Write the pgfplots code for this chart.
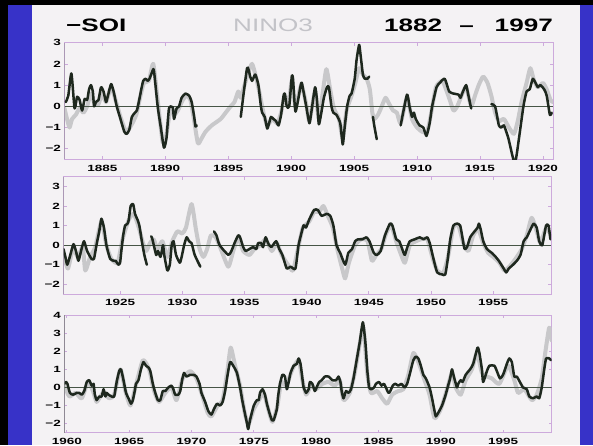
\documentclass[border=0pt]{standalone}
\usepackage{fontspec}
\setmainfont{Liberation Sans}
\newfontfamily\stretchfont[FakeStretch=1.45]{Liberation Sans}
\newfontfamily\tickfont[FakeStretch=1.5]{Liberation Sans}
\usepackage{pgfplots}
\pgfplotsset{compat=1.18}
\usepackage{pgfplotstable}

\definecolor{slideblue}{RGB}{55,50,200}
\definecolor{bgc}{RGB}{244,242,244}
\definecolor{graycurve}{RGB}{200,200,202}
\definecolor{darkcurve}{RGB}{30,40,30}
\definecolor{framec}{RGB}{205,170,220}
\definecolor{leftc}{RGB}{110,120,110}
\definecolor{zeroc}{RGB}{70,85,70}
\definecolor{ninoc}{RGB}{195,195,200}

\pgfplotstableread{
x y
1882.1 0.2
1882.3 0.5
1882.55 1.55
1882.8 -0.1
1883.0 0.45
1883.2 0.3
1883.4 -0.2
1883.6 0.35
1883.8 0.3
1883.95 0.8
1884.1 1.0
1884.25 0.7
1884.35 0.0
1884.5 0.2
1884.7 0.3
1884.9 0.9
1885.1 0.7
1885.3 0.2
1885.45 0.5
1885.7 1.05
1885.9 0.7
1886.15 0.0
1886.4 -0.5
1886.75 -1.2
1886.95 -1.3
1887.15 -1.1
1887.35 -0.5
1887.6 -0.3
1887.75 -0.2
1887.9 0.2
1888.1 0.8
1888.25 1.2
1888.45 1.3
1888.6 1.2
1888.75 1.3
1888.95 1.6
1889.1 1.7
1889.4 0.0
1889.65 -1.0
1889.9 -1.95
1890.1 -1.5
1890.3 -0.1
1890.6 -0.05
1890.7 -0.6
1890.9 -0.1
1891.1 0.0
1891.3 0.4
1891.6 0.6
1891.9 0.5
1892.1 0.2
1892.3 -0.5
1892.4 -0.95
1892.5 -0.9
nan nan
1896.0 -0.5
1896.5 1.8
1896.75 1.4
1896.9 1.2
1897.15 1.5
1897.4 1.0
1897.6 0.0
1897.7 -0.3
1897.9 -0.5
1898.1 -1.05
1898.25 -0.8
1898.4 -0.5
1898.6 -0.6
1898.8 -0.7
1899.0 -0.9
1899.2 -0.4
1899.4 0.5
1899.5 0.6
1899.65 0.0
1899.85 0.0
1900.05 1.4
1900.15 1.3
1900.35 -0.25
1900.8 1.1
1900.95 0.8
1901.2 0.0
1901.45 -0.8
1901.6 -0.3
1901.9 0.9
1902.05 0.3
1902.2 -0.85
1902.4 -0.3
1902.6 0.4
1902.85 0.9
1903.0 0.9
1903.2 0.0
1903.35 -0.3
1903.6 -0.4
1903.9 -0.8
1904.1 -1.8
1904.25 -1.0
1904.45 0.0
1904.65 0.5
1904.8 0.6
1905.05 1.3
1905.2 2.2
1905.4 2.9
1905.5 2.5
1905.7 1.5
1905.85 1.3
1906.05 1.3
1906.2 1.4
nan nan
1906.5 -0.5
1906.6 -0.9
1906.8 -1.55
nan nan
1908.7 -0.9
1909.2 0.55
1909.4 0.0
1909.6 -0.5
1909.75 -0.3
1909.9 -0.6
1910.2 -0.9
1910.5 -1.0
1910.75 -1.4
1911.0 -0.8
1911.2 0.0
1911.55 0.9
1911.8 1.1
1912.2 1.3
1912.55 0.7
1912.9 0.6
1913.3 0.55
1913.45 0.4
1913.65 0.7
1913.9 1.0
1914.05 0.6
1914.3 -0.1
nan nan
1915.9 0.1
1916.2 0.0
1916.5 -0.9
1916.7 -1.0
1916.9 -0.9
1917.25 -1.5
1917.65 -2.5
1917.85 -2.5
1918.1 -1.5
1918.45 0.0
1918.7 0.7
1918.95 0.8
1919.2 1.3
1919.5 1.0
1919.6 0.9
1919.8 1.0
1920.1 0.8
1920.3 0.5
1920.55 -0.4
1920.7 -0.3
}\soiA

\pgfplotstableread{
x y
1882.0 -0.1
1882.2 -0.6
1882.4 -1.0
1882.6 -0.6
1882.9 -0.4
1883.2 -0.1
1883.5 -0.3
1883.8 0.0
1884.1 0.6
1884.4 0.1
1884.7 0.1
1885.0 0.6
1885.3 0.2
1885.7 0.9
1886.1 0.2
1886.5 -0.6
1886.9 -1.2
1887.3 -0.9
1887.7 -0.4
1888.0 0.4
1888.3 1.1
1888.7 1.2
1889.05 2.0
1889.4 0.3
1889.8 -1.7
1890.1 -1.3
1890.4 -0.2
1890.7 -0.4
1891.0 -0.2
1891.4 0.3
1891.7 0.5
1892.0 0.3
1892.3 -0.7
1892.6 -1.75
1892.9 -1.5
1893.2 -1.2
1893.7 -0.9
1894.4 -0.6
1894.8 -0.3
1895.2 0.0
1895.5 0.2
1895.8 0.7
1896.0 0.4
1896.3 1.0
1896.6 1.6
1896.9 2.0
1897.2 1.4
1897.5 0.6
1897.8 -0.3
1898.1 -0.9
1898.5 -0.6
1898.9 -0.8
1899.2 -0.3
1899.5 0.5
1899.8 0.1
1900.05 1.2
1900.35 0.0
1900.8 1.0
1901.2 0.1
1901.45 -0.7
1901.9 0.7
1902.2 -0.6
1902.5 0.6
1902.8 1.75
1903.1 0.8
1903.4 -0.1
1903.8 -0.6
1904.1 -1.5
1904.4 -0.2
1904.8 0.5
1905.1 1.1
1905.4 1.8
1905.7 1.5
1906.0 1.3
1906.25 0.8
1906.45 -0.3
1906.6 -0.6
1906.9 -0.4
1907.2 0.0
1907.5 0.4
1907.8 0.1
1908.1 -0.2
1908.4 -0.3
1908.7 -0.8
1909.2 0.4
1909.6 -0.6
1910.0 -1.0
1910.4 -1.2
1910.8 -1.2
1911.1 -0.4
1911.5 0.9
1912.0 1.2
1912.3 0.8
1912.6 0.3
1912.9 -0.2
1913.2 0.0
1913.6 0.6
1913.9 0.9
1914.3 0.0
1914.6 0.5
1914.9 1.0
1915.25 1.4
1915.6 1.1
1915.9 0.5
1916.2 -0.3
1916.5 -0.7
1916.9 -0.6
1917.3 -1.0
1917.7 -1.3
1918.0 -0.7
1918.3 0.2
1918.7 1.1
1919.0 1.8
1919.3 1.2
1919.6 0.9
1920.0 1.1
1920.3 0.8
1920.6 0.3
1920.8 0.2
}\ninoA

\pgfplotstableread{
x y
1920.45 -0.2
1920.6 -0.6
1920.75 -1.0
1921.0 -0.5
1921.25 0.05
1921.45 -0.3
1921.65 -0.8
1921.9 -0.2
1922.1 0.2
1922.35 -0.3
1922.7 -0.7
1922.9 -0.7
1923.1 0.0
1923.35 0.8
1923.5 1.35
1923.7 0.9
1923.9 0.0
1924.2 -0.7
1924.5 -0.8
1924.65 -0.8
1924.85 -1.0
1925.0 -0.9
1925.1 -0.3
1925.25 0.5
1925.4 1.0
1925.6 1.1
1925.7 1.3
1925.85 2.0
1926.05 2.1
1926.2 1.6
1926.4 1.3
1926.55 1.0
1926.75 0.2
1926.95 -0.5
1927.15 -1.0
nan nan
1927.5 0.45
1927.6 0.3
1927.9 -0.5
1928.05 -0.3
1928.25 -0.6
1928.45 0.0
1928.55 -0.5
1928.8 -1.3
1929.0 -1.0
1929.15 0.0
1929.3 0.2
1929.5 -0.5
1929.8 -0.9
1929.95 -0.6
1930.15 0.0
1930.35 0.4
1930.55 0.2
1930.75 0.1
1931.0 -0.5
1931.45 -1.1
nan nan
1932.55 0.7
1932.75 0.5
1933.0 0.0
1933.7 -0.5
1933.95 -0.3
1934.2 0.1
1934.5 0.5
1934.65 0.4
1934.9 -0.1
1935.1 -0.3
1935.4 -0.2
1935.7 -0.1
1935.95 -0.2
1936.1 0.1
1936.35 0.1
1936.5 -0.1
1936.7 0.4
1936.9 0.1
1937.15 -0.1
1937.55 0.2
1937.8 -0.2
1938.05 -0.5
1938.4 -1.2
1938.7 -1.1
1939.1 -1.2
1939.35 0.0
1939.75 1.0
1939.95 0.9
1940.2 1.3
1940.6 1.8
1940.9 1.8
1941.2 1.5
1941.6 1.6
1941.9 1.5
1942.15 1.0
1942.4 0.0
1942.7 -0.4
1943.1 -1.0
1943.35 -0.4
1943.65 -0.2
1943.9 0.2
1944.15 0.3
1944.5 0.3
1944.8 0.4
1945.05 0.2
1945.4 -0.4
1945.65 -0.5
1945.95 -0.3
1946.3 0.5
1946.7 1.1
1946.9 1.0
1947.2 0.3
1947.45 0.2
1947.8 -0.4
1947.9 -0.5
1948.1 -0.1
1948.3 0.2
1948.7 0.3
1949.1 0.4
1949.4 0.3
1949.7 0.4
1949.9 0.1
1950.2 -0.7
1950.5 -1.4
1950.9 -1.5
1951.15 -1.5
1951.35 -0.7
1951.55 0.3
1951.8 1.0
1952.1 1.1
1952.35 1.0
1952.55 0.3
1952.7 -0.2
1952.9 -0.1
1953.15 0.4
1953.5 0.7
1953.75 0.9
1953.85 1.1
1954.0 0.8
1954.2 0.2
1954.5 -0.2
1954.9 -0.4
1955.2 -0.6
1955.45 -0.8
1955.85 -1.2
1956.05 -1.4
1956.25 -1.2
1956.6 -1.0
1956.9 -0.8
1957.2 -0.5
1957.45 0.2
1957.7 0.4
1958.0 0.8
1958.25 1.1
1958.5 0.9
1958.7 0.2
1958.95 0.0
1959.25 1.0
1959.45 1.0
1959.6 0.3
}\soiB

\pgfplotstableread{
x y
1920.4 -0.3
1920.8 -1.2
1921.2 -0.2
1921.6 -0.6
1922.0 -0.1
1922.2 -1.3
1922.6 -0.6
1923.0 -0.1
1923.5 1.2
1923.9 0.0
1924.3 -0.7
1924.8 -0.9
1925.2 0.3
1925.7 1.3
1926.1 1.6
1926.5 0.9
1926.8 0.2
1927.1 -0.3
1927.4 0.1
1927.7 0.3
1928.0 -0.2
1928.4 0.2
1928.8 -0.6
1929.2 0.2
1929.6 0.7
1930.0 0.6
1930.3 0.9
1930.75 2.1
1931.1 0.8
1931.4 -0.2
1931.7 -0.6
1932.0 -0.2
1932.3 0.5
1932.7 0.4
1933.1 -0.2
1933.7 -1.1
1934.1 -0.3
1934.5 0.4
1934.9 -0.3
1935.4 -0.5
1935.8 -0.2
1936.3 0.0
1936.7 0.3
1937.2 -0.3
1937.6 0.1
1938.0 -0.5
1938.5 -1.0
1938.9 -1.3
1939.3 -0.2
1939.7 0.9
1940.2 1.2
1940.6 1.7
1941.0 1.7
1941.35 2.0
1941.7 1.5
1942.1 0.9
1942.5 -0.3
1942.9 -1.3
1943.1 -1.7
1943.4 -0.9
1943.9 0.0
1944.4 0.3
1944.9 0.2
1945.25 -0.8
1945.6 -0.5
1946.0 -0.2
1946.4 0.6
1946.8 1.0
1947.2 0.2
1947.6 -0.5
1947.9 -0.9
1948.3 0.0
1948.8 0.2
1949.2 0.3
1949.7 0.3
1950.1 -0.6
1950.5 -1.3
1951.0 -1.4
1951.4 -0.5
1951.8 0.9
1952.2 1.0
1952.6 0.1
1953.0 -0.3
1953.4 0.5
1953.8 0.8
1954.2 0.1
1954.6 -0.4
1955.0 -0.6
1955.5 -0.9
1955.9 -1.3
1956.3 -1.1
1956.8 -0.7
1957.3 -0.2
1957.7 0.5
1958.1 1.4
1958.5 0.7
1958.8 0.1
1959.2 0.8
1959.6 0.6
}\ninoB

\pgfplotstableread{
x y
1959.8 0.2
1959.95 0.3
1960.05 0.2
1960.25 -0.3
1960.5 -0.4
1960.8 -0.3
1961.0 -0.3
1961.2 -0.4
1961.4 -0.2
1961.6 0.3
1961.8 0.4
1962.0 0.1
1962.15 0.2
1962.25 -0.4
1962.4 -0.7
1962.6 -0.5
1962.8 -0.5
1962.95 -0.1
1963.1 -0.5
1963.2 -0.3
1963.35 -0.4
1963.6 -0.5
1963.8 -0.5
1964.0 0.3
1964.2 0.9
1964.35 1.0
1964.55 0.4
1964.75 -0.3
1964.95 -0.6
1965.15 -0.9
1965.3 -0.7
1965.45 -0.2
1965.55 0.2
1965.75 0.4
1965.95 1.0
1966.15 1.4
1966.35 1.2
1966.55 1.1
1966.7 0.9
1966.9 0.2
1967.1 -0.3
1967.3 -0.7
1967.5 -0.7
1967.7 -0.2
1967.9 -0.2
1968.15 0.0
1968.4 0.1
1968.55 -0.1
1968.7 -0.4
1968.95 -0.4
1969.1 -0.2
1969.25 0.4
1969.4 0.8
1969.6 0.6
1969.9 0.7
1970.15 0.7
1970.4 0.6
1970.65 0.2
1970.8 -0.3
1971.1 -0.8
1971.35 -1.3
1971.6 -1.5
1971.8 -1.2
1972.05 -0.9
1972.3 -1.0
1972.5 -0.8
1972.7 -0.2
1972.9 0.7
1973.1 1.4
1973.35 1.2
1973.65 0.8
1973.9 0.0
1974.1 -0.8
1974.4 -1.8
1974.55 -2.3
1974.7 -1.8
1975.0 -1.0
1975.25 -0.7
1975.4 -0.7
1975.5 -0.3
1975.7 -0.1
1975.9 -0.4
1976.05 -0.9
1976.25 -1.4
1976.45 -1.8
1976.6 -1.8
1976.85 -1.2
1976.95 -0.5
1977.1 0.2
1977.3 0.7
1977.5 0.6
1977.65 -0.1
1977.8 0.3
1977.95 0.8
1978.2 1.2
1978.45 1.3
1978.6 1.6
1978.75 1.3
1978.9 0.5
1979.0 0.0
1979.2 -0.3
1979.4 -0.1
1979.5 0.3
1979.7 0.2
1979.9 -0.2
1980.1 0.1
1980.25 0.3
1980.45 0.4
1980.7 0.6
1981.0 0.6
1981.3 0.4
1981.6 0.4
1981.8 0.6
1981.95 0.3
1982.05 -0.2
1982.2 -0.6
1982.4 -0.2
1982.6 -0.3
1982.8 -0.1
1983.0 0.5
1983.25 1.5
1983.5 2.5
1983.75 3.6
1983.95 2.5
1984.1 1.0
1984.25 0.0
1984.45 -0.1
1984.65 0.0
1984.8 0.2
1985.05 0.3
1985.25 0.1
1985.45 0.2
1985.8 -0.3
1985.95 -0.2
1986.15 0.1
1986.35 0.2
1986.6 0.1
1986.85 0.2
1987.1 0.0
1987.3 0.2
1987.5 0.7
1987.8 1.5
1988.0 1.7
1988.2 1.6
1988.4 1.2
1988.6 0.7
1988.8 0.5
1989.1 0.0
1989.3 -0.6
1989.5 -1.3
1989.6 -1.6
1989.8 -1.4
1990.1 -1.0
1990.35 -0.5
1990.55 0.0
1990.75 0.5
1990.9 1.0
1991.05 0.6
1991.3 0.0
1991.4 0.2
1991.6 0.4
1991.75 0.3
1992.0 0.7
1992.35 1.0
1992.6 1.3
1992.95 2.2
1993.1 1.9
1993.3 1.0
1993.4 0.3
1993.7 0.9
1993.9 1.2
1994.3 1.2
1994.5 0.9
1994.75 0.5
1995.0 0.7
1995.3 1.3
1995.5 1.6
1995.7 1.4
1995.9 0.6
1996.1 0.6
1996.35 0.3
1996.6 0.0
1996.9 -0.1
1997.1 -0.5
1997.4 -0.6
1997.7 -0.5
1997.9 -0.6
1998.1 0.0
1998.3 1.0
1998.45 1.6
1998.7 1.6
1998.85 1.5
}\soiC

\pgfplotstableread{
x y
1959.8 0.1
1960.2 -0.5
1960.7 -0.3
1961.2 -0.6
1961.7 0.3
1962.1 -0.2
1962.4 -0.8
1962.9 -0.3
1963.4 -0.6
1963.8 -0.4
1964.3 1.0
1964.7 -0.2
1965.1 -1.0
1965.5 0.0
1966.1 1.5
1966.6 1.0
1967.0 -0.2
1967.4 -0.8
1967.9 -0.3
1968.4 0.0
1968.8 -0.7
1969.3 0.5
1969.9 0.9
1970.4 0.5
1970.8 -0.3
1971.3 -1.4
1971.6 -1.6
1972.1 -1.0
1972.5 -0.7
1972.9 1.0
1973.15 2.2
1973.5 1.2
1973.9 0.1
1974.3 -1.5
1974.6 -2.0
1975.0 -1.2
1975.5 -0.6
1975.8 -0.3
1976.2 -1.3
1976.5 -1.9
1976.9 -1.0
1977.2 0.3
1977.6 0.1
1978.1 1.0
1978.6 1.5
1978.9 0.4
1979.2 -0.4
1979.6 0.1
1980.0 -0.1
1980.5 0.2
1981.0 0.3
1981.5 0.1
1981.9 0.4
1982.2 -0.7
1982.7 -0.3
1983.1 0.8
1983.5 2.4
1983.8 3.3
1984.1 0.8
1984.4 -0.3
1984.9 -0.2
1985.3 -0.6
1985.7 -0.9
1986.1 -0.4
1986.6 -0.2
1987.0 -0.1
1987.4 0.7
1987.8 1.9
1988.2 1.4
1988.7 0.4
1989.1 -0.4
1989.5 -1.7
1990.0 -1.2
1990.5 -0.1
1990.9 0.8
1991.2 0.0
1991.6 -0.4
1992.0 0.4
1992.5 1.0
1992.9 1.9
1993.3 0.8
1993.7 0.6
1994.1 0.5
1994.7 0.2
1995.4 1.2
1995.9 0.4
1996.2 -0.3
1996.7 -0.1
1997.3 -0.7
1997.7 -0.4
1998.1 0.5
1998.4 2.0
1998.7 3.3
1998.9 2.6
}\ninoC

\pgfplotsset{
  panel/.style={
    scale only axis,
    anchor=south west,
    axis line style={draw=framec, line width=0.8pt},
    tick align=inside,
    major tick length=3pt,
    tick style={draw=framec, line width=0.7pt},
    ticklabel style={font=\tickfont\bfseries\fontsize{9}{10}\selectfont, text=black},
    xticklabel style={yshift=-2pt},
    scaled x ticks=false,
    scaled y ticks=false,
    unbounded coords=jump,
    clip=true,
  },
  gcurve/.style={graycurve, line width=4pt, line join=round, line cap=round, no markers, smooth, tension=0.35},
  kcurve/.style={darkcurve, line width=2.5pt, line join=round, line cap=round, no markers, smooth, tension=0.35},
  zline/.style={zeroc, line width=0.7pt, no markers},
}

\begin{document}
\begin{tikzpicture}
\useasboundingbox (0pt,0pt) rectangle (593pt,445pt);
\fill[black] (0pt,0pt) rectangle (593pt,445pt);
\fill[slideblue] (8pt,0pt) rectangle (593pt,440pt);
\fill[bgc] (32pt,0pt) rectangle (580pt,440pt);

\node[anchor=base west, inner sep=0] at (66pt,413.8pt) {\stretchfont\bfseries\fontsize{18}{20}\selectfont −SOI};
\node[anchor=base west, inner sep=0, text=ninoc] at (233pt,413.8pt) {\stretchfont\fontsize{18}{20}\selectfont NINO3};
\node[anchor=base west, inner sep=0] at (384pt,413.8pt) {\stretchfont\bfseries\fontsize{18}{20}\selectfont 1882};
\node[anchor=base, inner sep=0] at (466.5pt,413.8pt) {\stretchfont\bfseries\fontsize{18}{20}\selectfont –};
\node[anchor=base east, inner sep=0] at (553pt,413.8pt) {\stretchfont\bfseries\fontsize{18}{20}\selectfont 1997};

% Panel 1
\begin{axis}[panel, at={(64.5pt,285.7pt)}, width=488.5pt, height=116.6pt,
  xmin=1882, xmax=1920.8, ymin=-2.5, ymax=3,
  xtick={1885,1890,1895,1900,1905,1910,1915,1920},
  xticklabels={1885,1890,1895,1900,1905,1910,1915,1920},
  ytick={-2,-1,0,1,2,3}, yticklabels={−2,−1,0,1,2,3}]
\addplot[gcurve] table {\ninoA};
\addplot[zline] coordinates {(1882,0) (1920.8,0)};
\addplot[kcurve] table {\soiA};
\draw[leftc, line width=0.9pt] (rel axis cs:0,0) -- (rel axis cs:0,1);
\end{axis}

% Panel 2
\begin{axis}[panel, at={(63.5pt,151pt)}, width=487.5pt, height=117.3pt,
  xmin=1920.45, xmax=1959.65, ymin=-2.5, ymax=3.5,
  xtick={1925,1930,1935,1940,1945,1950,1955},
  xticklabels={1925,1930,1935,1940,1945,1950,1955},
  ytick={-2,-1,0,1,2,3}, yticklabels={−2,−1,0,1,2,3}]
\addplot[gcurve] table {\ninoB};
\addplot[zline] coordinates {(1920.45,0) (1959.65,0)};
\addplot[kcurve] table {\soiB};
\draw[leftc, line width=0.9pt] (rel axis cs:0,0) -- (rel axis cs:0,1);
\end{axis}

% Panel 3
\begin{axis}[panel, at={(64.3pt,12.3pt)}, width=487.4pt, height=117.7pt,
  xmin=1959.8, xmax=1998.9, ymin=-2.5, ymax=4,
  xtick={1960,1965,1970,1975,1980,1985,1990,1995},
  xticklabels={1960,1965,1970,1975,1980,1985,1990,1995},
  ytick={-2,-1,0,1,2,3,4}, yticklabels={−2,−1,0,1,2,3,4}]
\addplot[gcurve] table {\ninoC};
\addplot[zline] coordinates {(1959.8,0) (1998.9,0)};
\addplot[kcurve] table {\soiC};
\draw[leftc, line width=0.9pt] (rel axis cs:0,0) -- (rel axis cs:0,1);
\end{axis}
\end{tikzpicture}
\end{document}
